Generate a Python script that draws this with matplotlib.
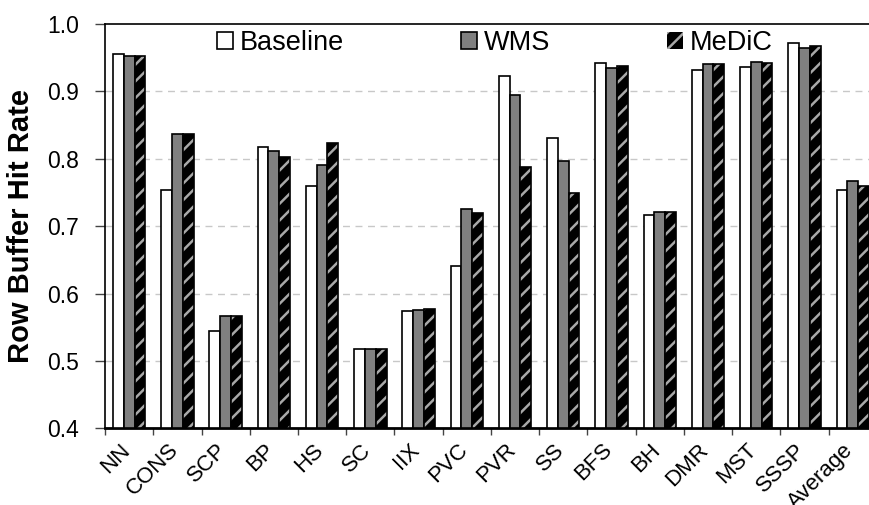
import matplotlib
matplotlib.use("Agg")
import matplotlib.pyplot as plt
import matplotlib.transforms as mtransforms
import numpy as np
from matplotlib.patches import Patch

plt.rcParams['font.family'] = ['Liberation Sans', 'DejaVu Sans']

categories = ["NN", "CONS", "SCP", "BP", "HS", "SC", "IIX", "PVC", "PVR", "SS",
              "BFS", "BH", "DMR", "MST", "SSSP", "Average"]
baseline = [0.956, 0.753, 0.545, 0.818, 0.760, 0.518, 0.574, 0.641, 0.923, 0.831,
            0.942, 0.716, 0.931, 0.936, 0.972, 0.754]
wms = [0.952, 0.836, 0.567, 0.812, 0.791, 0.518, 0.576, 0.725, 0.894, 0.796,
       0.934, 0.721, 0.941, 0.943, 0.965, 0.767]
medic = [0.952, 0.836, 0.567, 0.802, 0.824, 0.518, 0.577, 0.720, 0.788, 0.749,
         0.938, 0.721, 0.941, 0.942, 0.967, 0.760]
yticks = [0.4, 0.5, 0.6, 0.7, 0.8, 0.9, 1.0]

plt.rcParams['hatch.linewidth'] = 1.8

fig = plt.figure(figsize=(8.7, 5.05), dpi=100)
ax = fig.add_axes([0.1207, 0.1519, 0.8873, 0.8006])

x = np.arange(len(categories))
w = 0.223
bottom = 0.4

ax.bar(x - w, np.array(baseline) - bottom, w, bottom=bottom, color='white',
       edgecolor='black', linewidth=1.2, zorder=3)
ax.bar(x, np.array(wms) - bottom, w, bottom=bottom, color='#808080',
       edgecolor='black', linewidth=1.2, zorder=3)
ax.bar(x + w, np.array(medic) - bottom, w, bottom=bottom, color='black',
       edgecolor='#a8a8a8', hatch='//', linewidth=0, zorder=3)
ax.bar(x + w, np.array(medic) - bottom, w, bottom=bottom, fill=False,
       edgecolor='black', linewidth=1.2, zorder=4)

ax.set_ylim(0.4, 1.0)
ax.set_xlim(-0.5, len(categories) - 0.5)
ax.set_yticks(yticks)
ax.set_yticklabels([f"{v:.1f}" for v in yticks], fontsize=16.5)
ax.tick_params(axis='y', direction='out', length=7, width=1, color='#444444', pad=11.5)
for v in yticks[1:-1]:
    ax.axhline(v, color='#c8c8c8', linestyle=(0, (5, 4)), linewidth=1, zorder=1)

ax.set_xticks(x)
ax.set_xticklabels(categories, rotation=45, ha='right', fontsize=16)
ax.tick_params(axis='x', which='major', length=0, pad=8)
ax.set_xticks(np.arange(-0.5, len(categories) - 0.5, 1.0), minor=True)
ax.tick_params(axis='x', which='minor', direction='out', length=5, width=1, color='#444444')
offset = mtransforms.ScaledTranslation(5 / 100, 0, fig.dpi_scale_trans)
for lab in ax.get_xticklabels():
    lab.set_transform(lab.get_transform() + offset)

ax.set_ylabel("Row Buffer Hit Rate", fontsize=21, fontweight='bold', labelpad=9)

for s in ['top', 'left', 'right']:
    ax.spines[s].set_linewidth(1.2)
    ax.spines[s].set_color('black')
ax.spines['bottom'].set_linewidth(2)

handles = [
    Patch(facecolor='white', edgecolor='black', linewidth=1.2, label='Baseline'),
    Patch(facecolor='#808080', edgecolor='black', linewidth=1.2, label='WMS'),
    Patch(facecolor='black', edgecolor='#a8a8a8', hatch='//', linewidth=0, label='MeDiC'),
]
leg = ax.legend(handles=handles, loc='upper center', bbox_to_anchor=(0.505, 1.025),
                ncol=3, frameon=False, fontsize=19.5, handlelength=0.6, handleheight=0.6,
                handletextpad=0.25, columnspacing=4.3, borderaxespad=0.2)
leg.set_zorder(5)

fig.savefig("out.png", dpi=100)
